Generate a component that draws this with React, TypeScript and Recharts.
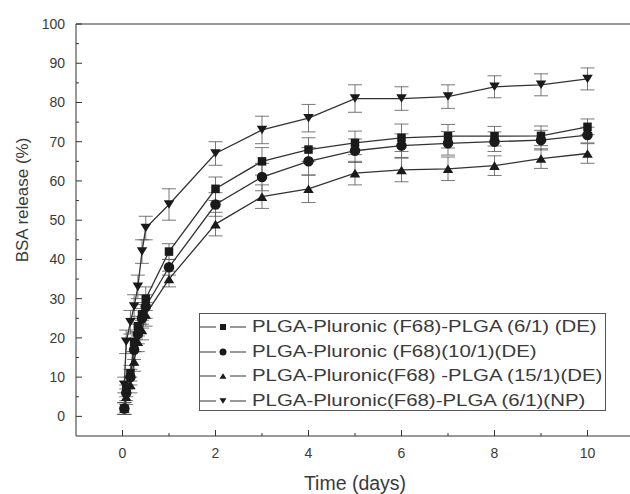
import { LineChart, Line, XAxis, YAxis, ErrorBar, ReferenceLine, Legend, Label } from "recharts";

const days = [0.04, 0.08, 0.17, 0.25, 0.33, 0.42, 0.5, 1, 2, 3, 4, 5, 6, 7, 8, 9, 10];

const de61 = [2, 7, 11, 19, 23, 26, 30, 42, 58, 65, 68, 69.7, 71, 71.4, 71.4, 71.5, 73.8];
const de101 = [2, 6, 10, 17, 21, 25, 28, 38, 54, 61, 65, 67.7, 69, 69.6, 70, 70.4, 71.7];
const de151 = [2, 5, 8, 14, 19, 22, 26, 35, 49, 56, 58, 62, 62.8, 63.1, 63.9, 65.7, 67];
const np61 = [8, 19, 24, 28, 33, 42, 48, 54, 67, 73, 76, 81, 81, 81.5, 84, 84.5, 86];

const errDe61 = [1.5, 2, 2, 2.5, 2.5, 2.5, 3, 2, 3, 3.5, 3, 3, 3.5, 3, 2.5, 2.5, 2];
const errDe101 = [1.5, 2, 2, 2.5, 2.5, 2.5, 3, 2, 3, 3.5, 3.5, 3, 3, 3, 2.5, 2.5, 2];
const errDe151 = [1.5, 2, 2, 2.5, 2.5, 2.5, 3, 2, 3, 3, 3.5, 3, 3, 3, 2.5, 2.5, 2.5];
const errNp61 = [2, 3, 3, 3, 3, 3, 3, 4, 3, 3.5, 3.5, 3.5, 3, 3, 2.8, 2.8, 2.8];

const seriesNames = [
  "PLGA-Pluronic (F68)-PLGA (6/1) (DE)",
  "PLGA-Pluronic (F68)(10/1)(DE)",
  "PLGA-Pluronic(F68) -PLGA (15/1)(DE)",
  "PLGA-Pluronic(F68)-PLGA (6/1)(NP)",
];

const xTicks = [0, 1, 2, 3, 4, 5, 6, 7, 8, 9, 10];
const yTicks = [0, 5, 10, 15, 20, 25, 30, 35, 40, 45, 50, 55, 60, 65, 70, 75, 80, 85, 90, 95, 100];

const data = days.map((d, i) => ({
  day: d,
  de61: de61[i],
  de101: de101[i],
  de151: de151[i],
  np61: np61[i],
  eDe61: errDe61[i],
  eDe101: errDe101[i],
  eDe151: errDe151[i],
  eNp61: errNp61[i],
}));

const INK = "#1a1a1a";
const LINE = "#333";
const TEXT = "#3a3a3a";
const FONT = "'Liberation Sans', Arial, sans-serif";

type Shape = "square" | "circle" | "up" | "down";

const marker = (shape: Shape, cx: number, cy: number, s: number, key?: string) => {
  if (shape === "square") return <rect key={key} x={cx - s / 2} y={cy - s / 2} width={s} height={s} fill={INK} />;
  if (shape === "circle") return <circle key={key} cx={cx} cy={cy} r={s / 2 + 0.5} fill={INK} />;
  const h = s * 0.9;
  if (shape === "up")
    return <polygon key={key} points={`${cx - s / 2 - 0.5},${cy + h / 2} ${cx + s / 2 + 0.5},${cy + h / 2} ${cx},${cy - h / 2}`} fill={INK} />;
  return <polygon key={key} points={`${cx - s / 2 - 0.5},${cy - h / 2} ${cx + s / 2 + 0.5},${cy - h / 2} ${cx},${cy + h / 2}`} fill={INK} />;
};

const dotFor = (shape: Shape) => (props: any) => {
  const { cx, cy, index } = props;
  if (cx == null || cy == null) return <g key={`n-${index}`} />;
  return marker(shape, cx, cy, shape === "square" ? 8.5 : 9.5, `${shape}-${index}`);
};

const XTick = ({ x = 0, y = 0, payload }: any) => {
  const v = payload?.value;
  const major = v % 2 === 0;
  return (
    <g>
      <line x1={x} y1={y} x2={x} y2={y - (major ? 6 : 3)} stroke={LINE} strokeWidth={1} />
      {major && (
        <text x={x} y={y + 22} textAnchor="middle" fontSize={14} fill={TEXT} fontFamily={FONT}>
          {v}
        </text>
      )}
    </g>
  );
};

const YTick = ({ x = 0, y = 0, payload }: any) => {
  const v = payload?.value;
  const major = v % 10 === 0;
  return (
    <g>
      <line x1={x} y1={y} x2={x + (major ? 6 : 3)} y2={y} stroke={LINE} strokeWidth={1} />
      {major && (
        <text x={x - 11} y={y + 5} textAnchor="end" fontSize={14} fill={TEXT} fontFamily={FONT}>
          {v}
        </text>
      )}
    </g>
  );
};

const shapes: Shape[] = ["square", "circle", "up", "down"];

const LegendBox = () => (
  <div
    style={{
      width: 407,
      height: 98,
      border: "1px solid #555",
      background: "#fff",
      fontFamily: FONT,
      fontSize: 17,
      color: TEXT,
      boxSizing: "border-box",
      paddingTop: 1,
    }}
  >
    {seriesNames.map((name, i) => (
      <div key={name} style={{ display: "flex", alignItems: "center", height: 24.5, whiteSpace: "nowrap" }}>
        <svg width={52} height={20} style={{ flex: "none" }}>
          <line x1={0} y1={10} x2={46} y2={10} stroke={LINE} strokeWidth={1.2} />
          <rect x={16} y={6} width={14} height={8} fill="#fff" />
          {marker(shapes[i], 23, 10, 6)}
        </svg>
        <span style={{ display: "inline-block", transform: "scaleX(1.2)", transformOrigin: "left center" }}>{name}</span>
      </div>
    ))}
  </div>
);

export default function App() {
  return (
    <div style={{ position: "absolute", left: 0, top: 0, width: 630, height: 494, overflow: "hidden", background: "#fff" }}>
      <LineChart width={640} height={494} data={data} margin={{ top: 24, right: 6, bottom: 0, left: 0 }}>
        <XAxis
          dataKey="day"
          type="number"
          domain={[-1, 11]}
          ticks={xTicks}
          interval={0}
          height={58}
          tickSize={0}
          tickMargin={0}
          tickLine={false}
          tick={<XTick />}
          stroke={LINE}
          allowDataOverflow
        >
          <Label value="Time (days)" position="insideBottom" offset={4} fontSize={19.5} fill={TEXT} fontFamily={FONT} />
        </XAxis>
        <YAxis
          type="number"
          domain={[-5, 100]}
          ticks={yTicks}
          interval={0}
          width={76}
          tickSize={0}
          tickMargin={0}
          tickLine={false}
          tick={<YTick />}
          stroke={LINE}
          allowDataOverflow
        >
          <Label
            content={() => (
              <text transform="translate(28,200) rotate(-90)" textAnchor="middle" fontSize={17} fill={TEXT} fontFamily={FONT}>
                BSA release (%)
              </text>
            )}
          />
        </YAxis>
        <ReferenceLine y={100} stroke={LINE} strokeWidth={1} />
        <Legend
          layout="horizontal"
          verticalAlign="middle"
          content={() => <LegendBox />}
          wrapperStyle={{ position: "absolute", left: 199, top: 313, width: 407, height: 98 }}
        />
        <Line dataKey="de61" name={seriesNames[0]} stroke={LINE} strokeWidth={1.3} dot={dotFor("square")} isAnimationActive={false}>
          <ErrorBar dataKey="eDe61" width={7} stroke="#555" strokeWidth={0.8} direction="y" />
        </Line>
        <Line dataKey="de101" name={seriesNames[1]} stroke={LINE} strokeWidth={1.3} dot={dotFor("circle")} isAnimationActive={false}>
          <ErrorBar dataKey="eDe101" width={7} stroke="#555" strokeWidth={0.8} direction="y" />
        </Line>
        <Line dataKey="de151" name={seriesNames[2]} stroke={LINE} strokeWidth={1.3} dot={dotFor("up")} isAnimationActive={false}>
          <ErrorBar dataKey="eDe151" width={7} stroke="#555" strokeWidth={0.8} direction="y" />
        </Line>
        <Line dataKey="np61" name={seriesNames[3]} stroke={LINE} strokeWidth={1.3} dot={dotFor("down")} isAnimationActive={false}>
          <ErrorBar dataKey="eNp61" width={7} stroke="#555" strokeWidth={0.8} direction="y" />
        </Line>
      </LineChart>
    </div>
  );
}
